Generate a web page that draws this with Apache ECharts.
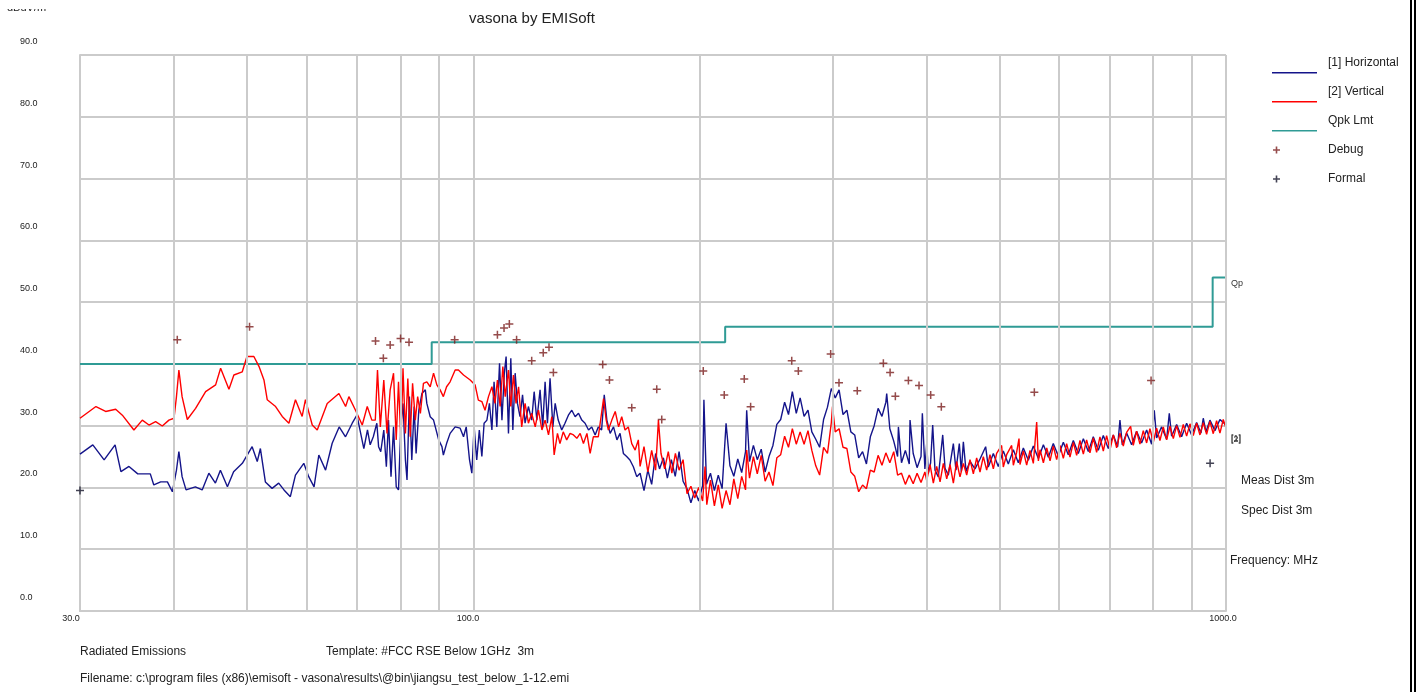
<!DOCTYPE html>
<html>
<head>
<meta charset="utf-8">
<script src="https://cdn.jsdelivr.net/npm/echarts@6/dist/echarts.min.js"></script>
<style>
html,body{margin:0;padding:0;background:#fff;}
#chart{width:1417px;height:692px;}
</style>
</head>
<body>
<div id="chart"></div>
<script>
// ---------- data (frequency in MHz, level in dBuV/m) ----------
const horizontalFreqMHz = [30.0,31.2,32.3,33.4,34.0,34.85,35.8,37.2,37.6,38.4,39.2,39.8,40.3,40.6,41.0,41.5,42.7,43.6,44.5,45.4,46.1,47.1,48.0,49.3,50.8,51.6,52.1,52.9,54.0,55.1,56.0,57.1,58.0,59.5,60.4,61.4,62.3,63.6,64.9,66.3,67.6,69.0,70.0,71.5,72.3,
72.9,73.6,74.4,74.8,75.3,76.0,76.6,77.1,77.7,78.3,78.95,79.5,80.1,80.6,81.2,81.6,82.2,82.8,83.4,83.9,84.6,85.4,86.3,86.7,87.6,88.5,89.9,90.8,91.2,92.1,93.1,94.55,96.0,97.0,97.8,98.8,99.5,100.2,101.0,101.8,102.6,103.3,104.2,105.0,105.8,106.5,107.4,108.3,109.1,109.9,110.5,111.3,112.1,112.8,113.6,114.4,115.3,116.2,117.1,118.3,119.5,120.4,121.4,122.6,123.6,124.5,125.4,126.4,127.5,128.4,129.6,131.0,132.3,133.7,135.1,136.5,137.9,139.3,140.7,142.2,143.6,145.1,146.5,148.0,149.2,150.4,151.9,153.5,155.1,156.6,158.2,159.8,161.4,163.1,164.8,
166.5,168.5,170.5,172.5,174.6,176.7,178.8,181.0,183.2,185.4,187.6,189.9,192.2,194.5,196.8,199.2,201.6,202.4,204.0,206.5,209.0,211.5,214.0,216.6,219.2,221.8,224.5,227.2,229.9,230.7,232.7,235.5,238.3,241.2,244.1,247.0,250.0,253.0,256.0,259.1,262.2,265.3,268.5,271.7,275.0,278.3,281.6,285.0,288.4,291.9,295.4,298.9,302.5,306.1,309.8,313.5,317.3,321.1,325.0,328.9,332.8,336.8,340.8,344.9,349.0,353.2,354.1,357.5,361.8,366.1,367.0,370.5,374.9,379.4,380.3,384.0,388.6,393.3,394.9,398.0,400.2,402.2,
405.0,407.6,410.5,414.7,420.3,423.3,427.6,434.2,437.7,442.2,444.9,447.7,451.4,456.9,464.0,471.1,479.3,483.2,490.7,498.2,505.9,513.7,521.7,529.7,537.9,546.2,554.6,563.2,571.9,580.7,589.5,598.6,607.9,617.2,626.8,636.4,646.3,656.2,666.3,676.6,687.0,697.6,708.4,717.8,722.9,728.1,737.8,749.2,760.7,772.4,784.4,796.5,802.9,808.7,821.2,833.9,840.7,846.7,859.8,873.0,886.5,900.2,914.0,926.2,932.8,940.5,952.0,966.7,981.6,1000];
const horizontalLevel = [25.4,26.9,24.45,26.9,22.55,23.4,22.2,22.2,20.4,20.9,20.9,19.3,22.8,25.8,21.75,19.6,20.1,19.6,22.3,20.7,22.8,20.1,22.55,23.9,26.6,24.2,26.3,20.9,19.85,20.7,19.6,18.5,22.0,23.9,21.75,20.1,25.25,22.8,27.15,29.8,28.2,30.4,31.7,26.3,29.3,
26.9,28.2,30.4,26.6,25.8,29.3,23.35,30.9,21.75,29.8,20.1,19.6,30.4,33.6,24.45,21.2,34.7,24.45,33.1,25.5,32.5,35.2,35.8,33.6,31.45,30.9,27.7,26.6,25.25,27.1,28.75,29.8,29.6,28.2,29.8,24.45,22.3,29.8,24.45,29.3,25.0,30.4,30.9,33.6,29.3,37.1,29.8,40.1,30.9,38.5,41.2,28.75,40.9,29.3,38.5,33.6,31.45,35.0,30.4,33.1,30.9,35.5,30.9,35.8,29.8,37.1,30.4,37.65,29.8,33.6,30.9,29.3,30.4,31.7,32.5,31.45,32.0,30.9,30.4,29.3,29.8,28.5,29.8,29.3,35.0,30.9,28.75,29.8,27.7,28.75,25.5,25.0,24.45,23.35,21.75,
22.3,19.5,22.8,20.5,25.5,23.0,24.8,21.5,24.5,21.8,25.8,21.0,19.8,17.5,19.5,17.8,20.3,34.2,20.5,22.3,19.5,22.0,19.8,30.4,23.5,21.8,24.6,22.4,25.8,32.5,24.2,26.8,24.5,26.2,22.5,25.0,26.8,30.2,31.0,33.8,31.8,35.5,32.0,34.5,31.5,32.5,29.0,27.8,26.5,31.0,33.0,36.0,34.5,35.8,31.8,32.5,29.0,28.5,24.8,25.8,23.8,28.2,30.0,32.8,31.5,33.8,35.2,29.5,27.5,25.0,29.8,24.0,26.0,23.8,30.9,25.5,23.2,25.0,32.0,23.0,27.1,22.3,
24.0,30.1,22.8,21.7,28.5,23.1,22.0,27.1,22.8,27.1,22.55,27.4,22.6,24.2,23.0,24.6,26.6,23.3,25.5,23.4,25.9,23.8,26.1,24.0,26.4,24.4,26.7,24.7,26.9,24.9,27.1,25.1,27.3,25.3,27.6,25.5,27.9,25.8,28.2,26.0,28.4,26.3,28.5,26.6,30.9,26.9,28.8,26.9,29.1,27.2,29.3,27.0,32.5,28.0,29.8,27.8,32.0,28.3,30.2,28.2,30.4,28.5,30.5,28.8,31.2,29.0,30.9,29.2,31.0,30.1];

const verticalFreqMHz = [30.0,31.5,32.45,33.46,34.15,35.38,36.30,37.05,37.81,38.59,39.38,40.0,40.3,40.6,41.0,41.66,42.73,44.06,45.43,46.13,47.32,48.04,49.28,50.0,51.07,51.87,52.67,53.2,54.58,55.7,56.85,58.0,59.2,59.8,61.06,62.0,63.92,66.25,67.62,68.3,69.7,71.15,72.25,
73.27,74.05,74.55,75.2,76.0,76.75,77.5,78.3,78.95,79.5,80.1,80.6,81.2,81.8,82.4,83.0,83.7,84.3,85.0,85.8,86.7,87.6,88.5,89.4,90.3,91.2,92.1,93.1,94.55,95.5,97.0,99.0,100.5,101.5,102.6,103.6,104.7,105.8,106.8,107.6,108.5,109.4,110.2,111.3,112.1,113.0,113.9,114.8,115.9,117.1,118.3,119.5,120.8,122.0,123.3,124.5,125.8,127.1,128.0,129.3,130.3,131.6,133.0,134.4,135.8,137.2,138.6,140.0,141.5,142.9,144.3,146.5,148.9,150.1,151.1,152.7,154.3,155.9,157.4,159.0,160.6,162.3,164.0,165.6,
166.5,168.5,170.5,172.5,174.6,176.1,177.5,179.5,181.5,183.5,185.5,187.6,189.9,192.2,194.5,196.8,199.2,201.6,203.1,204.2,206.5,209.0,211.5,214.0,216.6,219.2,221.8,224.5,227.2,229.9,230.7,232.7,235.5,238.3,241.2,244.1,247.0,250.0,253.0,256.0,259.1,262.2,265.3,268.5,271.7,275.0,278.3,281.6,285.0,288.4,291.9,295.4,298.9,300.0,302.5,306.1,309.8,313.5,317.3,321.1,325.0,328.9,332.8,336.8,340.8,344.9,349.0,353.2,357.5,361.8,366.1,370.5,374.9,379.4,384.0,388.6,393.3,398.0,
400.2,404.3,408.4,412.6,416.9,421.1,425.5,429.8,434.2,438.6,443.1,447.7,452.3,456.9,461.6,466.3,471.1,475.9,480.8,485.7,490.7,495.7,503.3,505.9,511.1,519.0,521.7,527.0,530.8,532.4,537.9,543.4,549.0,554.6,560.3,563.2,566.1,571.9,577.8,583.7,589.5,595.6,601.7,607.9,614.1,620.4,626.8,633.2,639.7,646.3,652.8,659.5,666.3,673.1,680.0,687.0,694.0,701.2,708.4,715.6,722.9,730.3,737.8,746.9,753.0,760.7,768.5,776.4,784.4,792.4,800.5,808.7,817.0,825.4,833.9,842.4,851.1,859.8,868.6,877.5,886.5,895.6,904.7,914.0,923.4,932.8,942.4,952.0,961.8,971.6,981.6,991.6,1000];
const verticalLevel = [31.2,33.1,32.3,32.65,31.7,29.3,30.9,30.1,30.65,29.95,30.9,31.2,34.7,39.0,34.7,31.0,32.8,35.5,36.6,39.3,35.9,38.2,38.7,41.2,41.2,39.6,37.4,34.2,33.1,31.5,30.4,34.2,31.5,34.2,30.1,29.3,33.6,35.2,33.1,34.7,32.5,30.1,33.1,
30.9,30.9,39.0,29.8,37.4,28.75,35.8,38.5,27.7,37.1,27.1,39.3,28.75,37.65,28.2,36.85,30.9,34.7,32.0,36.85,37.1,36.3,38.5,36.6,35.8,34.7,36.3,37.1,39.0,39.0,38.2,37.4,36.6,34.15,33.9,32.5,34.7,36.3,33.6,37.4,33.1,39.55,34.7,39.0,33.1,38.2,33.6,36.3,29.8,33.6,30.4,32.0,29.8,32.5,29.3,30.9,28.5,31.45,25.25,28.75,27.1,29.0,27.7,28.75,28.5,27.95,28.75,27.1,28.75,25.5,28.2,28.2,34.4,30.9,29.3,30.9,32.3,29.8,31.45,29.3,29.8,27.1,26.05,27.7,
23.4,26.6,22.5,26.0,22.8,30.9,25.5,23.0,25.8,22.3,25.5,22.8,24.5,19.0,20.2,18.3,20.0,17.8,23.4,17.2,21.2,17.0,20.4,16.6,19.5,17.2,21.4,18.2,21.8,19.6,26.06,21.5,25.0,22.2,25.2,21.0,22.5,20.3,24.8,25.3,28.3,26.5,29.5,27.0,29.0,27.0,29.2,26.0,23.5,22.0,26.5,25.5,30.5,33.1,29.0,29.5,26.5,26.3,22.5,21.8,19.3,20.4,19.8,22.8,22.5,25.2,23.6,25.6,24.0,25.8,22.0,22.3,20.5,22.0,20.6,22.3,20.8,22.5,
21.1,23.7,20.7,23.4,20.9,23.9,21.4,23.7,20.7,24.2,21.7,23.9,22.0,24.5,22.2,24.8,22.5,25.0,22.8,25.3,23.0,25.5,26.8,23.3,25.3,26.8,23.6,25.7,27.9,23.7,25.9,23.6,26.0,23.9,30.6,24.3,26.1,24.0,26.4,24.3,26.7,24.5,26.8,24.7,27.1,24.9,27.3,25.2,27.6,25.4,27.7,25.6,28.0,25.7,28.2,25.9,28.4,26.1,28.5,26.4,28.8,26.7,28.9,29.9,26.8,29.1,27.0,29.2,27.2,29.5,27.3,29.6,27.6,29.8,27.7,29.9,27.9,30.0,28.1,30.2,28.3,30.3,28.4,30.4,28.5,30.5,28.6,30.7,28.7,30.8,28.8,31.0,29.6];

const limitFreqMHz = [30, 88, 88, 216, 216, 960, 960, 1000];
const limitLevel   = [40, 40, 43.5, 43.5, 46, 46, 54, 54];

const debugFreqMHz = [40.4,50.4,74.1,75.9,77.5,80.0,82.1,94.4,107.6,109.8,111.6,114.1,119.5,123.8,126.0,127.7,148.5,151.6,162.3,175.2,177.9,202.0,215.4,229.0,233.5,264.8,270.2,298.3,306.0,323.6,350.5,357.8,363.6,378.4,390.9,405.1,418.5,556.3,795.1];
const debugLevel   = [43.9,46.0,43.7,40.9,43.05,44.1,43.5,43.9,44.7,45.8,46.45,43.9,40.5,41.8,42.7,38.6,39.9,37.4,32.9,35.9,31.0,38.85,34.96,37.55,33.07,40.5,38.85,41.6,36.95,35.66,40.1,38.6,34.75,37.3,36.5,34.96,33.07,35.4,37.3];

const formalFreqMHz = [30.0, 952.5];
const formalLevel   = [19.5, 23.9];

const freqGridMHz = [40,50,60,70,80,90,100,200,300,400,500,600,700,800,900,1000];
const xTickLabels = {30: '30.0', 100: '100.0', 1000: '1000.0'};
const levelMin = 0, levelMax = 90, levelStep = 10;

const seriesNames = ['[1] Horizontal', '[2] Vertical', 'Qpk Lmt', 'Debug', 'Formal'];
// ---------------------------------------------------------------

const zip = (a, b) => a.map((v, i) => [v, b[i]]);
const FONT = '"Liberation Sans", Arial, sans-serif';
const GRID = '#cbcbcb';
const TXT = '#222';

const lineIcon = 'path://M0,0 M0,20 L45,20 L45,21.6 L0,21.6 Z M45,22';
const plusIcon = 'path://M0,0 M45,22 M3.7,7.5 L5.3,7.5 L5.3,10.2 L8,10.2 L8,11.8 L5.3,11.8 L5.3,14.5 L3.7,14.5 L3.7,11.8 L1,11.8 L1,10.2 L3.7,10.2 Z';
const plusSymbol = 'path://M3,0 L4.4,0 L4.4,3 L7.4,3 L7.4,4.4 L4.4,4.4 L4.4,7.4 L3,7.4 L3,4.4 L0,4.4 L0,3 L3,3 Z';

const chart = echarts.init(document.getElementById('chart'), null, {renderer: 'canvas'});
const option = {
  animation: false,
  backgroundColor: '#ffffff',
  textStyle: {fontFamily: FONT},
  title: {
    text: 'vasona by EMISoft', left: 527, top: 6, textAlign: 'center',
    textStyle: {fontSize: 15, fontWeight: 'normal', color: TXT, fontFamily: FONT}
  },
  grid: {left: 80, top: 55, width: 1146, height: 556, containLabel: false},
  legend: {
    orient: 'vertical', left: 1272, top: 52, padding: 0,
    itemWidth: 45, itemHeight: 22, itemGap: 7,
    selectedMode: false,
    textStyle: {fontSize: 12, color: TXT, fontFamily: FONT, padding: [0, 0, 0, 6]},
    data: [
      {name: seriesNames[0], icon: lineIcon},
      {name: seriesNames[1], icon: lineIcon},
      {name: seriesNames[2], icon: lineIcon},
      {name: seriesNames[3], icon: plusIcon},
      {name: seriesNames[4], icon: plusIcon}
    ]
  },
  xAxis: {
    type: 'log', logBase: 10, min: 30, max: 1000,
    axisLine: {show: true, onZero: false, lineStyle: {color: GRID, width: 2}},
    axisTick: {show: false},
    splitLine: {show: false},
    axisLabel: {
      show: true, showMinLabel: true, showMaxLabel: true, margin: 3,
      fontSize: 9, color: TXT, fontFamily: FONT,
      formatter: v => {
        const k = Math.round(v);
        const s = xTickLabels[k] || k.toFixed(1);
        const tag = k === 30 ? 'a' : (k === 100 ? 'b' : 'c');
        return '{' + tag + '|' + s + '}';
      },
      rich: {
        a: {fontSize: 9, color: TXT, fontFamily: FONT, padding: [0, 18, 0, 0]},
        b: {fontSize: 9, color: TXT, fontFamily: FONT, padding: [0, 11, 0, 0]},
        c: {fontSize: 9, color: TXT, fontFamily: FONT, padding: [0, 6, 0, 0]}
      }
    }
  },
  yAxis: {
    type: 'value', min: levelMin, max: levelMax, interval: levelStep,
    axisLine: {show: true, onZero: false, lineStyle: {color: GRID, width: 2}},
    axisTick: {show: false},
    splitLine: {show: true, lineStyle: {color: GRID, width: 2}},
    axisLabel: {
      align: 'left', margin: 60, verticalAlign: 'bottom', padding: [0, 0, 9, 0],
      fontSize: 9, color: TXT, fontFamily: FONT,
      formatter: v => v.toFixed(1)
    }
  },
  series: [
    {
      name: 'freq-grid', type: 'line', data: [], z: 1, silent: true,
      markLine: {
        silent: true, symbol: ['none', 'none'], label: {show: false},
        lineStyle: {color: GRID, width: 2, type: 'solid'},
        data: freqGridMHz.map(f => ({xAxis: f}))
      }
    },
    {
      name: seriesNames[0], type: 'line', data: zip(horizontalFreqMHz, horizontalLevel),
      showSymbol: false, symbol: 'none', z: 3,
      color: '#14148a',
      lineStyle: {color: '#14148a', width: 1.4},
      itemStyle: {color: '#14148a'},
      endLabel: {show: true, formatter: '[1]', fontSize: 9, color: '#333', offset: [-3, 13], fontFamily: FONT}
    },
    {
      name: seriesNames[1], type: 'line', data: zip(verticalFreqMHz, verticalLevel),
      showSymbol: false, symbol: 'none', z: 4,
      color: '#ff0000',
      lineStyle: {color: '#ff0000', width: 1.4},
      itemStyle: {color: '#ff0000'},
      endLabel: {show: true, formatter: '[2]', fontSize: 9, color: '#333', offset: [-3, 11], fontFamily: FONT}
    },
    {
      name: seriesNames[2], type: 'line', data: zip(limitFreqMHz, limitLevel),
      showSymbol: false, symbol: 'none', z: 2,
      color: '#2f9b95',
      lineStyle: {color: '#2f9b95', width: 2},
      itemStyle: {color: '#2f9b95'},
      endLabel: {show: true, formatter: 'Qp', fontSize: 9, color: '#333', offset: [-3, 6], fontFamily: FONT}
    },
    {
      name: seriesNames[3], type: 'scatter', data: zip(debugFreqMHz, debugLevel),
      symbol: plusSymbol, symbolSize: 8, z: 5,
      itemStyle: {color: '#7a1e1e'}
    },
    {
      name: seriesNames[4], type: 'scatter', data: zip(formalFreqMHz, formalLevel),
      symbol: plusSymbol, symbolSize: 8, z: 5,
      itemStyle: {color: '#15152a'}
    }
  ],
  graphic: [
    {type: 'text', left: 7, top: 2, style: {text: 'dBuV/m', font: '11px ' + FONT, fill: TXT}},
    {type: 'rect', left: 0, top: 0, shape: {width: 300, height: 9}, style: {fill: '#fff'}, z: 100},
    {type: 'text', left: 1241, top: 475, style: {text: 'Meas Dist 3m', font: '12px ' + FONT, fill: TXT}},
    {type: 'text', left: 1241, top: 505, style: {text: 'Spec Dist 3m', font: '12px ' + FONT, fill: TXT}},
    {type: 'text', left: 1230, top: 555, style: {text: 'Frequency: MHz', font: '12px ' + FONT, fill: TXT}},
    {type: 'text', left: 80, top: 646, style: {text: 'Radiated Emissions', font: '12px ' + FONT, fill: TXT}},
    {type: 'text', left: 326, top: 646, style: {text: 'Template: #FCC RSE Below 1GHz  3m', font: '12px ' + FONT, fill: TXT}},
    {type: 'text', left: 80, top: 673, style: {text: 'Filename: c:\\program files (x86)\\emisoft - vasona\\results\\@bin\\jiangsu_test_below_1-12.emi', font: '12px ' + FONT, fill: TXT}},
    {type: 'rect', left: 1410, top: 0, shape: {width: 2, height: 692}, style: {fill: '#000'}},
    {type: 'rect', left: 1414, top: 0, shape: {width: 2, height: 692}, style: {fill: '#000'}}
  ]
};
chart.setOption(option);
</script>
</body>
</html>
